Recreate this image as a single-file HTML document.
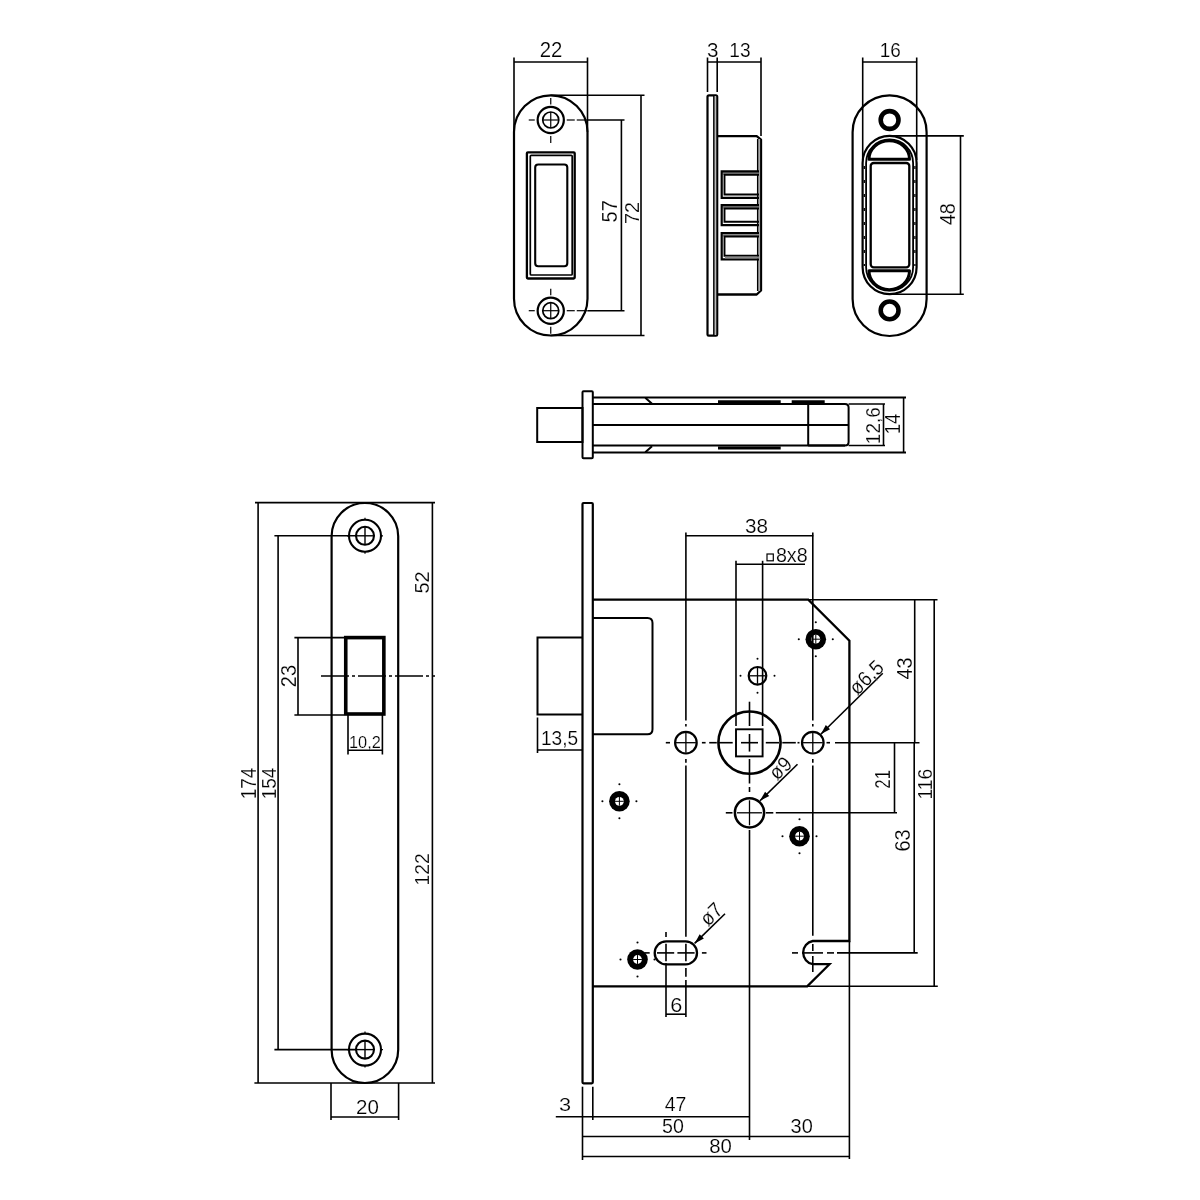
<!DOCTYPE html>
<html><head><meta charset="utf-8"><style>
html,body{margin:0;padding:0;background:#fff;}
svg{display:block;will-change:transform;}
text{font-family:"Liberation Sans",sans-serif;fill:#000;stroke:#fff;stroke-width:0.2px;}
</style></head><body>
<svg width="1200" height="1200" viewBox="0 0 1200 1200" stroke="#000" fill="none" stroke-linecap="butt">
<rect x="0" y="0" width="1200" height="1200" fill="#fff" stroke="none"/>
<path d="M514.00,132.05 A36.75,36.75 0 0 1 587.50,132.05 L587.50,298.75 A36.75,36.75 0 0 1 514.00,298.75 Z" stroke-width="2.2" fill="none" />
<circle cx="550.75" cy="120.00" r="13.10" stroke-width="2.2" fill="none"/>
<circle cx="550.75" cy="120.00" r="8.00" stroke-width="1.7" fill="none"/>
<line x1="542.75" y1="120.00" x2="558.75" y2="120.00" stroke-width="1.2"/>
<line x1="550.75" y1="112.00" x2="550.75" y2="128.00" stroke-width="1.2"/>
<line x1="528.75" y1="120.00" x2="534.75" y2="120.00" stroke-width="1.2"/>
<line x1="566.75" y1="120.00" x2="574.75" y2="120.00" stroke-width="1.2"/>
<line x1="550.75" y1="98.00" x2="550.75" y2="104.50" stroke-width="1.2"/>
<line x1="550.75" y1="136.00" x2="550.75" y2="143.00" stroke-width="1.2"/>
<circle cx="550.75" cy="310.70" r="13.10" stroke-width="2.2" fill="none"/>
<circle cx="550.75" cy="310.70" r="8.00" stroke-width="1.7" fill="none"/>
<line x1="542.75" y1="310.70" x2="558.75" y2="310.70" stroke-width="1.2"/>
<line x1="550.75" y1="302.70" x2="550.75" y2="318.70" stroke-width="1.2"/>
<line x1="528.75" y1="310.70" x2="534.75" y2="310.70" stroke-width="1.2"/>
<line x1="566.75" y1="310.70" x2="574.75" y2="310.70" stroke-width="1.2"/>
<line x1="550.75" y1="288.70" x2="550.75" y2="295.20" stroke-width="1.2"/>
<line x1="550.75" y1="326.70" x2="550.75" y2="333.70" stroke-width="1.2"/>
<line x1="576.75" y1="120.00" x2="587.50" y2="120.00" stroke-width="1.2"/>
<line x1="576.75" y1="310.70" x2="587.50" y2="310.70" stroke-width="1.2"/>
<rect x="526.90" y="152.30" width="47.80" height="126.20" rx="1" stroke-width="2.3" fill="none"/>
<rect x="530.30" y="155.30" width="41.90" height="119.70" rx="1" stroke-width="1.7" fill="none"/>
<rect x="535.20" y="164.50" width="32.10" height="101.80" rx="3" stroke-width="2.1" fill="none"/>
<line x1="514.00" y1="62.00" x2="587.50" y2="62.00" stroke-width="1.6"/>
<line x1="514.00" y1="57.50" x2="514.00" y2="132.00" stroke-width="1.6"/>
<line x1="587.50" y1="57.50" x2="587.50" y2="132.00" stroke-width="1.6"/>
<text transform="translate(539.68,56.75) scale(0.9574,1)" font-size="21.27">22</text>
<line x1="550.75" y1="95.30" x2="644.50" y2="95.30" stroke-width="1.6"/>
<line x1="550.75" y1="335.50" x2="644.50" y2="335.50" stroke-width="1.6"/>
<line x1="641.00" y1="95.30" x2="641.00" y2="335.50" stroke-width="1.6"/>
<line x1="587.50" y1="120.00" x2="624.50" y2="120.00" stroke-width="1.6"/>
<line x1="587.50" y1="310.70" x2="624.50" y2="310.70" stroke-width="1.6"/>
<line x1="621.40" y1="120.00" x2="621.40" y2="310.70" stroke-width="1.6"/>
<text transform="translate(616.54,222.41) rotate(-90) scale(0.9376,1)" font-size="21.50">57</text>
<text transform="translate(638.70,223.91) rotate(-90) scale(0.9463,1)" font-size="20.91">72</text>
<path d="M707.5,334.5 L707.5,96.8 Q707.5,95.3 709,95.3 L715.8,95.3 Q717.2,95.3 717.2,96.8 L717.2,334.5 Q717.2,335.7 716,335.7 L708.7,335.7 Q707.5,335.7 707.5,334.5 Z" stroke-width="2.2" fill="none" />
<line x1="714.00" y1="96.00" x2="714.00" y2="335.00" stroke-width="1.8"/>
<rect x="714.6" y="96" width="1.6" height="239" fill="#bbb" stroke="none"/>
<path d="M717.2,136.2 L756.7,136.2 L761,139.6 L761,290.5 L756.7,294.5 L717.2,294.5" stroke-width="2.3" fill="none" stroke-linejoin="round"/>
<line x1="757.80" y1="139.00" x2="757.80" y2="291.00" stroke-width="1.7"/>
<rect x="758.6" y="139" width="1.5" height="152" fill="#aaa" stroke="none"/>
<rect x="722.5" y="171.30" width="36" height="3.50" fill="#888" stroke="none"/>
<path d="M759,171.3 L721.7,171.3 L721.7,197.8 L759,197.8" stroke-width="2.2" fill="none" />
<path d="M759,174.8 L724.5,174.8 L724.5,194.5 L759,194.5" stroke-width="1.9" fill="none" />
<rect x="722.5" y="205.20" width="36" height="3.30" fill="#888" stroke="none"/>
<path d="M759,205.2 L721.7,205.2 L721.7,225.2 L759,225.2" stroke-width="2.2" fill="none" />
<path d="M759,208.5 L724.5,208.5 L724.5,221.8 L759,221.8" stroke-width="1.9" fill="none" />
<rect x="722.5" y="233.00" width="36" height="3.50" fill="#888" stroke="none"/>
<path d="M759,233 L721.7,233 L721.7,259.3 L759,259.3" stroke-width="2.2" fill="none" />
<path d="M759,236.5 L724.5,236.5 L724.5,255.7 L759,255.7" stroke-width="1.9" fill="none" />
<rect x="725" y="256.5" width="34" height="2" fill="#888" stroke="none"/>
<line x1="707.50" y1="62.00" x2="761.00" y2="62.00" stroke-width="1.6"/>
<line x1="707.50" y1="57.50" x2="707.50" y2="92.00" stroke-width="1.6"/>
<line x1="717.20" y1="57.50" x2="717.20" y2="92.00" stroke-width="1.6"/>
<line x1="761.00" y1="57.50" x2="761.00" y2="136.00" stroke-width="1.6"/>
<text transform="translate(706.97,56.55) scale(0.9871,1)" font-size="20.83">3</text>
<text transform="translate(729.29,56.55) scale(0.9192,1)" font-size="20.83">13</text>
<path d="M852.60,132.30 A37.00,37.00 0 0 1 926.60,132.30 L926.60,299.00 A37.00,37.00 0 0 1 852.60,299.00 Z" stroke-width="2.2" fill="none" />
<circle cx="889.60" cy="120.00" r="8.90" stroke-width="4.6" fill="none"/>
<circle cx="889.60" cy="310.40" r="8.90" stroke-width="4.6" fill="none"/>
<path d="M862.60,162.90 A27.00,27.00 0 0 1 916.60,162.90 L916.60,267.20 A27.00,27.00 0 0 1 862.60,267.20 Z" stroke-width="2.2" fill="none" />
<path d="M866.10,162.90 A23.50,23.50 0 0 1 913.10,162.90 L913.10,267.20 A23.50,23.50 0 0 1 866.10,267.20 Z" stroke-width="1.8" fill="none" />
<line x1="864.3" y1="166" x2="864.3" y2="266" stroke-width="1.3" stroke-dasharray="3,11"/>
<line x1="914.9" y1="166" x2="914.9" y2="266" stroke-width="1.3" stroke-dasharray="3,11"/>
<path d="M869,159.3 A20.25,18.6 0 0 1 909.5,159.3 Z" stroke-width="3.0" fill="none" stroke-linejoin="round"/>
<path d="M869,270.8 A20.25,18.9 0 0 0 909.5,270.8 Z" stroke-width="3.0" fill="none" stroke-linejoin="round"/>
<rect x="870.70" y="163.00" width="38.60" height="104.30" rx="3" stroke-width="2.3" fill="none"/>
<line x1="862.70" y1="62.00" x2="916.70" y2="62.00" stroke-width="1.6"/>
<line x1="862.70" y1="57.50" x2="862.70" y2="160.00" stroke-width="1.6"/>
<line x1="916.70" y1="57.50" x2="916.70" y2="160.00" stroke-width="1.6"/>
<text transform="translate(879.66,56.69) scale(0.9004,1)" font-size="21.04">16</text>
<line x1="889.60" y1="135.90" x2="963.80" y2="135.90" stroke-width="1.6"/>
<line x1="889.60" y1="294.20" x2="963.80" y2="294.20" stroke-width="1.6"/>
<line x1="960.50" y1="135.90" x2="960.50" y2="294.20" stroke-width="1.6"/>
<text transform="translate(955.29,225.15) rotate(-90) scale(0.9342,1)" font-size="21.19">48</text>
<rect x="537.20" y="408.00" width="45.30" height="34.00" rx="0" stroke-width="2.0" fill="none"/>
<rect x="582.50" y="391.30" width="10.30" height="67.00" rx="1" stroke-width="2.0" fill="none"/>
<line x1="592.80" y1="397.60" x2="906.00" y2="397.60" stroke-width="2.0"/>
<line x1="592.80" y1="452.50" x2="906.00" y2="452.50" stroke-width="2.0"/>
<line x1="592.80" y1="404.00" x2="845.00" y2="404.00" stroke-width="2.0"/>
<line x1="592.80" y1="425.00" x2="848.60" y2="425.00" stroke-width="2.0"/>
<line x1="592.80" y1="445.50" x2="845.00" y2="445.50" stroke-width="2.0"/>
<path d="M808.2,404 L845,404 Q848.6,404 848.6,407.5 L848.6,442 Q848.6,445.5 845,445.5 L808.2,445.5" stroke-width="2.0" fill="none" />
<line x1="808.20" y1="404.00" x2="808.20" y2="445.50" stroke-width="2.0"/>
<line x1="645.30" y1="397.70" x2="652.00" y2="403.70" stroke-width="2.0"/>
<line x1="645.30" y1="452.30" x2="652.00" y2="446.30" stroke-width="2.0"/>
<line x1="718.00" y1="401.80" x2="780.70" y2="401.80" stroke-width="3.2"/>
<line x1="791.70" y1="401.80" x2="824.70" y2="401.80" stroke-width="3.2"/>
<line x1="718.00" y1="448.00" x2="780.70" y2="448.00" stroke-width="3.2"/>
<line x1="848.60" y1="404.00" x2="885.00" y2="404.00" stroke-width="1.6"/>
<line x1="848.60" y1="445.50" x2="885.00" y2="445.50" stroke-width="1.6"/>
<line x1="883.50" y1="404.00" x2="883.50" y2="445.50" stroke-width="1.6"/>
<line x1="903.60" y1="397.60" x2="903.60" y2="452.50" stroke-width="1.6"/>
<text transform="translate(879.90,444.14) rotate(-90) scale(0.9064,1)" font-size="20.90">12,6</text>
<text transform="translate(900.30,434.31) rotate(-90) scale(0.8782,1)" font-size="21.15">14</text>
<path d="M331.60,536.30 A33.30,33.30 0 0 1 398.20,536.30 L398.20,1049.70 A33.30,33.30 0 0 1 331.60,1049.70 Z" stroke-width="2.2" fill="none" />
<circle cx="365.00" cy="535.80" r="16.00" stroke-width="2.1" fill="none"/>
<circle cx="365.00" cy="535.80" r="9.00" stroke-width="2.1" fill="none"/>
<line x1="356.00" y1="535.80" x2="374.00" y2="535.80" stroke-width="1.4"/>
<line x1="365.00" y1="526.80" x2="365.00" y2="544.80" stroke-width="1.4"/>
<line x1="347.00" y1="535.80" x2="349.00" y2="535.80" stroke-width="1.2"/>
<line x1="381.00" y1="535.80" x2="383.00" y2="535.80" stroke-width="1.2"/>
<line x1="365.00" y1="517.80" x2="365.00" y2="519.80" stroke-width="1.2"/>
<line x1="365.00" y1="551.80" x2="365.00" y2="553.80" stroke-width="1.2"/>
<circle cx="365.00" cy="1049.60" r="16.00" stroke-width="2.1" fill="none"/>
<circle cx="365.00" cy="1049.60" r="9.00" stroke-width="2.1" fill="none"/>
<line x1="356.00" y1="1049.60" x2="374.00" y2="1049.60" stroke-width="1.4"/>
<line x1="365.00" y1="1040.60" x2="365.00" y2="1058.60" stroke-width="1.4"/>
<line x1="347.00" y1="1049.60" x2="349.00" y2="1049.60" stroke-width="1.2"/>
<line x1="381.00" y1="1049.60" x2="383.00" y2="1049.60" stroke-width="1.2"/>
<line x1="365.00" y1="1031.60" x2="365.00" y2="1033.60" stroke-width="1.2"/>
<line x1="365.00" y1="1065.60" x2="365.00" y2="1067.60" stroke-width="1.2"/>
<rect x="345.75" y="637.60" width="38.10" height="76.40" rx="0" stroke-width="3.6" fill="none"/>
<line x1="255.00" y1="502.60" x2="435.00" y2="502.60" stroke-width="1.6"/>
<line x1="254.40" y1="1083.00" x2="435.00" y2="1083.00" stroke-width="1.6"/>
<line x1="258.10" y1="502.60" x2="258.10" y2="1083.00" stroke-width="1.6"/>
<line x1="274.40" y1="535.80" x2="356.00" y2="535.80" stroke-width="1.6"/>
<line x1="274.40" y1="1049.60" x2="356.00" y2="1049.60" stroke-width="1.6"/>
<line x1="278.10" y1="535.80" x2="278.10" y2="1049.60" stroke-width="1.6"/>
<line x1="432.40" y1="502.60" x2="432.40" y2="1083.00" stroke-width="1.6"/>
<line x1="321" y1="676" x2="435" y2="676" stroke-width="1.3" stroke-dasharray="28,3,3,3"/>
<line x1="294.40" y1="637.60" x2="344.00" y2="637.60" stroke-width="1.6"/>
<line x1="294.40" y1="715.00" x2="344.00" y2="715.00" stroke-width="1.6"/>
<line x1="298.00" y1="637.60" x2="298.00" y2="715.00" stroke-width="1.6"/>
<line x1="348.00" y1="715.00" x2="348.00" y2="754.50" stroke-width="1.6"/>
<line x1="382.40" y1="715.00" x2="382.40" y2="754.50" stroke-width="1.6"/>
<line x1="348.00" y1="750.30" x2="382.40" y2="750.30" stroke-width="1.6"/>
<text transform="translate(348.95,747.54) scale(0.9909,1)" font-size="16.53">10,2</text>
<line x1="331.00" y1="1083.00" x2="331.00" y2="1120.00" stroke-width="1.6"/>
<line x1="398.60" y1="1083.00" x2="398.60" y2="1120.00" stroke-width="1.6"/>
<line x1="331.00" y1="1117.00" x2="398.60" y2="1117.00" stroke-width="1.6"/>
<text transform="translate(355.97,1113.50) scale(0.9955,1)" font-size="20.62">20</text>
<text transform="translate(429.09,593.61) rotate(-90) scale(0.9578,1)" font-size="21.04">52</text>
<text transform="translate(429.00,885.47) rotate(-90) scale(0.9291,1)" font-size="20.77">122</text>
<text transform="translate(255.70,799.35) rotate(-90) scale(0.8923,1)" font-size="21.37">174</text>
<text transform="translate(275.60,799.35) rotate(-90) scale(0.9112,1)" font-size="20.92">154</text>
<text transform="translate(295.79,687.21) rotate(-90) scale(0.9458,1)" font-size="21.19">23</text>
<rect x="582.50" y="503.00" width="10.30" height="580.30" rx="1" stroke-width="2.2" fill="none"/>
<path d="M592.8,599.7 L808.3,599.7 L849.4,640.8 L849.4,941 L812.8,941 A11.8,11.8 0 0 0 812.8,964.2 L829.5,964.2 L807.2,986.3 L592.8,986.3" stroke-width="2.3" fill="none" />
<path d="M582.5,637.5 L537.5,637.5 L537.5,714.5 L582.5,714.5" stroke-width="2.0" fill="none" />
<path d="M592.8,618 L647.5,618 Q652.5,618 652.5,623 L652.5,729.2 Q652.5,734.2 647.5,734.2 L592.8,734.2" stroke-width="2.0" fill="none" />
<circle cx="685.90" cy="742.70" r="10.80" stroke-width="2.2" fill="none"/>
<line x1="675.90" y1="742.70" x2="695.90" y2="742.70" stroke-width="1.3"/>
<line x1="685.90" y1="732.70" x2="685.90" y2="752.70" stroke-width="1.3"/>
<circle cx="812.80" cy="742.70" r="10.80" stroke-width="2.2" fill="none"/>
<line x1="802.80" y1="742.70" x2="822.80" y2="742.70" stroke-width="1.3"/>
<line x1="812.80" y1="732.70" x2="812.80" y2="752.70" stroke-width="1.3"/>
<circle cx="749.50" cy="742.60" r="31.10" stroke-width="2.6" fill="none"/>
<rect x="736.00" y="729.30" width="26.60" height="27.10" rx="0" stroke-width="1.9" fill="none"/>
<circle cx="749.50" cy="812.80" r="14.60" stroke-width="2.5" fill="none"/>
<line x1="737.00" y1="812.80" x2="762.00" y2="812.80" stroke-width="1.3"/>
<line x1="749.50" y1="800.30" x2="749.50" y2="825.30" stroke-width="1.3"/>
<circle cx="757.50" cy="675.80" r="8.80" stroke-width="2.2" fill="none"/>
<line x1="749.50" y1="675.80" x2="765.50" y2="675.80" stroke-width="1.3"/>
<line x1="757.50" y1="667.80" x2="757.50" y2="683.80" stroke-width="1.3"/>
<circle cx="774.50" cy="675.80" r="1.0" fill="#000" stroke="none"/>
<circle cx="740.50" cy="675.80" r="1.0" fill="#000" stroke="none"/>
<circle cx="757.50" cy="692.80" r="1.0" fill="#000" stroke="none"/>
<circle cx="757.50" cy="658.80" r="1.0" fill="#000" stroke="none"/>
<path d="M666.15,941.45 L685.55,941.45 A11.45,11.45 0 0 1 685.55,964.35 L666.15,964.35 A11.45,11.45 0 0 1 666.15,941.45 Z" stroke-width="2.3" fill="none" />
<circle cx="815.80" cy="639.20" r="10.3" fill="#000" stroke="none"/>
<circle cx="815.80" cy="639.20" r="4.4" fill="#fff" stroke="none"/>
<line x1="811.40" y1="639.20" x2="820.20" y2="639.20" stroke-width="1.0"/>
<line x1="815.80" y1="634.80" x2="815.80" y2="643.60" stroke-width="1.0"/>
<circle cx="832.80" cy="639.20" r="1.05" fill="#000" stroke="none"/>
<circle cx="798.80" cy="639.20" r="1.05" fill="#000" stroke="none"/>
<circle cx="815.80" cy="656.20" r="1.05" fill="#000" stroke="none"/>
<circle cx="815.80" cy="622.20" r="1.05" fill="#000" stroke="none"/>
<circle cx="619.40" cy="801.30" r="10.3" fill="#000" stroke="none"/>
<circle cx="619.40" cy="801.30" r="4.4" fill="#fff" stroke="none"/>
<line x1="615.00" y1="801.30" x2="623.80" y2="801.30" stroke-width="1.0"/>
<line x1="619.40" y1="796.90" x2="619.40" y2="805.70" stroke-width="1.0"/>
<circle cx="636.40" cy="801.30" r="1.05" fill="#000" stroke="none"/>
<circle cx="602.40" cy="801.30" r="1.05" fill="#000" stroke="none"/>
<circle cx="619.40" cy="818.30" r="1.05" fill="#000" stroke="none"/>
<circle cx="619.40" cy="784.30" r="1.05" fill="#000" stroke="none"/>
<circle cx="799.50" cy="836.20" r="10.3" fill="#000" stroke="none"/>
<circle cx="799.50" cy="836.20" r="4.4" fill="#fff" stroke="none"/>
<line x1="795.10" y1="836.20" x2="803.90" y2="836.20" stroke-width="1.0"/>
<line x1="799.50" y1="831.80" x2="799.50" y2="840.60" stroke-width="1.0"/>
<circle cx="816.50" cy="836.20" r="1.05" fill="#000" stroke="none"/>
<circle cx="782.50" cy="836.20" r="1.05" fill="#000" stroke="none"/>
<circle cx="799.50" cy="853.20" r="1.05" fill="#000" stroke="none"/>
<circle cx="799.50" cy="819.20" r="1.05" fill="#000" stroke="none"/>
<circle cx="637.50" cy="959.50" r="10.3" fill="#000" stroke="none"/>
<circle cx="637.50" cy="959.50" r="4.4" fill="#fff" stroke="none"/>
<line x1="633.10" y1="959.50" x2="641.90" y2="959.50" stroke-width="1.0"/>
<line x1="637.50" y1="955.10" x2="637.50" y2="963.90" stroke-width="1.0"/>
<circle cx="654.50" cy="959.50" r="1.05" fill="#000" stroke="none"/>
<circle cx="620.50" cy="959.50" r="1.05" fill="#000" stroke="none"/>
<circle cx="637.50" cy="976.50" r="1.05" fill="#000" stroke="none"/>
<circle cx="637.50" cy="942.50" r="1.05" fill="#000" stroke="none"/>
<line x1="685.90" y1="532.50" x2="685.90" y2="720.40" stroke-width="1.6"/>
<line x1="685.90" y1="723.90" x2="685.90" y2="726.40" stroke-width="1.6"/>
<line x1="685.90" y1="758.90" x2="685.90" y2="762.70" stroke-width="1.6"/>
<line x1="685.90" y1="765.60" x2="685.90" y2="936.70" stroke-width="1.6"/>
<line x1="685.90" y1="943.70" x2="685.90" y2="961.20" stroke-width="1.6"/>
<line x1="685.90" y1="968.00" x2="685.90" y2="976.70" stroke-width="1.6"/>
<line x1="685.90" y1="980.00" x2="685.90" y2="1017.00" stroke-width="1.6"/>
<line x1="666.00" y1="932.00" x2="666.00" y2="937.00" stroke-width="1.6"/>
<line x1="666.00" y1="943.70" x2="666.00" y2="961.20" stroke-width="1.6"/>
<line x1="666.00" y1="963.00" x2="666.00" y2="1017.00" stroke-width="1.6"/>
<line x1="749.50" y1="701.70" x2="749.50" y2="726.00" stroke-width="1.6"/>
<line x1="749.50" y1="734.00" x2="749.50" y2="751.60" stroke-width="1.6"/>
<line x1="749.50" y1="759.00" x2="749.50" y2="783.50" stroke-width="1.6"/>
<line x1="749.50" y1="787.00" x2="749.50" y2="792.00" stroke-width="1.6"/>
<line x1="749.50" y1="830.00" x2="749.50" y2="1140.00" stroke-width="1.6"/>
<line x1="812.80" y1="532.50" x2="812.80" y2="720.40" stroke-width="1.6"/>
<line x1="812.80" y1="723.90" x2="812.80" y2="726.40" stroke-width="1.6"/>
<line x1="812.80" y1="758.90" x2="812.80" y2="762.70" stroke-width="1.6"/>
<line x1="812.80" y1="765.60" x2="812.80" y2="935.80" stroke-width="1.6"/>
<line x1="812.80" y1="944.00" x2="812.80" y2="951.00" stroke-width="1.6"/>
<line x1="812.80" y1="956.00" x2="812.80" y2="972.00" stroke-width="1.6"/>
<line x1="736.00" y1="560.80" x2="736.00" y2="726.00" stroke-width="1.6"/>
<line x1="762.60" y1="560.80" x2="762.60" y2="726.00" stroke-width="1.6"/>
<line x1="665.80" y1="742.70" x2="670.00" y2="742.70" stroke-width="1.6"/>
<line x1="701.90" y1="742.70" x2="705.60" y2="742.70" stroke-width="1.6"/>
<line x1="709.20" y1="742.70" x2="716.80" y2="742.70" stroke-width="1.6"/>
<line x1="719.00" y1="742.70" x2="732.70" y2="742.70" stroke-width="1.6"/>
<line x1="741.00" y1="742.70" x2="758.00" y2="742.70" stroke-width="1.6"/>
<line x1="765.80" y1="742.70" x2="779.00" y2="742.70" stroke-width="1.6"/>
<line x1="782.30" y1="742.70" x2="795.80" y2="742.70" stroke-width="1.6"/>
<line x1="797.50" y1="742.70" x2="799.50" y2="742.70" stroke-width="1.6"/>
<line x1="826.50" y1="742.70" x2="830.00" y2="742.70" stroke-width="1.6"/>
<line x1="835.00" y1="742.70" x2="919.50" y2="742.70" stroke-width="1.6"/>
<line x1="725.80" y1="812.80" x2="732.50" y2="812.80" stroke-width="1.6"/>
<line x1="765.80" y1="812.80" x2="773.30" y2="812.80" stroke-width="1.6"/>
<line x1="775.80" y1="812.80" x2="897.00" y2="812.80" stroke-width="1.6"/>
<line x1="645.00" y1="952.90" x2="649.70" y2="952.90" stroke-width="1.6"/>
<line x1="657.00" y1="952.90" x2="674.20" y2="952.90" stroke-width="1.6"/>
<line x1="677.40" y1="952.90" x2="694.60" y2="952.90" stroke-width="1.6"/>
<line x1="701.90" y1="952.90" x2="706.50" y2="952.90" stroke-width="1.6"/>
<line x1="792.00" y1="952.90" x2="798.00" y2="952.90" stroke-width="1.6"/>
<line x1="802.00" y1="952.90" x2="823.00" y2="952.90" stroke-width="1.6"/>
<line x1="827.00" y1="952.90" x2="834.00" y2="952.90" stroke-width="1.6"/>
<line x1="837.00" y1="952.90" x2="917.70" y2="952.90" stroke-width="1.6"/>
<line x1="808.30" y1="599.70" x2="937.50" y2="599.70" stroke-width="1.6"/>
<line x1="807.70" y1="986.30" x2="937.80" y2="986.30" stroke-width="1.6"/>
<line x1="849.40" y1="941.00" x2="849.40" y2="1159.00" stroke-width="1.6"/>
<line x1="685.80" y1="535.80" x2="813.30" y2="535.80" stroke-width="1.6"/>
<text transform="translate(745.01,533.20) scale(1.0231,1)" font-size="20.20">38</text>
<line x1="735.80" y1="564.20" x2="805.00" y2="564.20" stroke-width="1.6"/>
<rect x="767.00" y="554.00" width="6.30" height="6.80" rx="0" stroke-width="1.2" fill="none"/>
<text transform="translate(775.89,561.81) scale(1.0144,1)" font-size="19.42">8x8</text>
<line x1="914.70" y1="599.70" x2="914.70" y2="742.50" stroke-width="1.6"/>
<text transform="translate(911.69,679.45) rotate(-90) scale(0.9346,1)" font-size="21.19">43</text>
<line x1="934.20" y1="599.70" x2="934.20" y2="986.30" stroke-width="1.6"/>
<text transform="translate(931.79,799.57) rotate(-90) scale(0.9145,1)" font-size="21.04">116</text>
<line x1="894.50" y1="742.50" x2="894.50" y2="812.50" stroke-width="1.6"/>
<text transform="translate(889.50,788.65) rotate(-90) scale(0.7909,1)" font-size="21.34">21</text>
<line x1="914.20" y1="742.50" x2="914.20" y2="953.00" stroke-width="1.6"/>
<text transform="translate(909.79,851.51) rotate(-90) scale(0.9292,1)" font-size="21.47">63</text>
<line x1="537.50" y1="717.50" x2="537.50" y2="753.00" stroke-width="1.6"/>
<line x1="537.50" y1="750.00" x2="582.50" y2="750.00" stroke-width="1.6"/>
<text transform="translate(540.95,745.10) scale(0.9519,1)" font-size="20.06">13,5</text>
<line x1="666.00" y1="1014.20" x2="685.90" y2="1014.20" stroke-width="1.6"/>
<text transform="translate(670.20,1011.51) scale(1.0960,1)" font-size="19.77">6</text>
<line x1="555.80" y1="1116.70" x2="749.50" y2="1116.70" stroke-width="1.6"/>
<line x1="582.50" y1="1086.70" x2="582.50" y2="1160.00" stroke-width="1.6"/>
<line x1="592.80" y1="1086.70" x2="592.80" y2="1120.00" stroke-width="1.6"/>
<text transform="translate(558.97,1110.71) scale(1.1393,1)" font-size="19.07">3</text>
<text transform="translate(664.75,1111.00) scale(0.9981,1)" font-size="19.48">47</text>
<line x1="582.50" y1="1136.50" x2="849.50" y2="1136.50" stroke-width="1.6"/>
<text transform="translate(662.11,1132.81) scale(1.0008,1)" font-size="19.63">50</text>
<text transform="translate(790.54,1132.81) scale(1.0113,1)" font-size="19.77">30</text>
<line x1="582.50" y1="1156.50" x2="849.50" y2="1156.50" stroke-width="1.6"/>
<text transform="translate(709.21,1153.40) scale(0.9889,1)" font-size="20.62">80</text>
<line x1="882.75" y1="673.25" x2="820.80" y2="734.20" stroke-width="1.6"/>
<path d="M820.80,734.20 L825.82,725.05 L830.03,729.33 Z" fill="#000" stroke="none"/>
<line x1="797.50" y1="764.20" x2="760.00" y2="800.80" stroke-width="1.6"/>
<path d="M760.00,800.80 L765.06,791.67 L769.25,795.96 Z" fill="#000" stroke="none"/>
<line x1="725.00" y1="913.70" x2="694.60" y2="943.40" stroke-width="1.6"/>
<path d="M694.60,943.40 L699.66,934.27 L703.85,938.56 Z" fill="#000" stroke="none"/>
<text transform="translate(857.21,696.13) rotate(-44) scale(0.9300,1)" font-size="21.00">ø6,5</text>
<text transform="translate(777.11,781.24) rotate(-44) scale(0.9300,1)" font-size="21.00">ø9</text>
<text transform="translate(707.92,927.32) rotate(-44) scale(0.9300,1)" font-size="21.00">ø7</text>
</svg></body></html>
